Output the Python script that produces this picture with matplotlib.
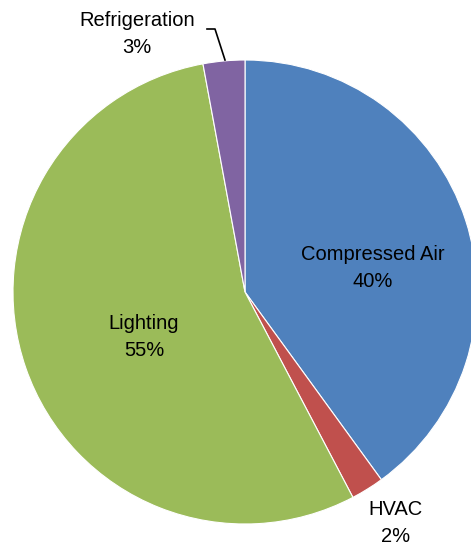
import matplotlib
matplotlib.use("Agg")
import matplotlib.pyplot as plt

labels = ["Compressed Air", "HVAC", "Lighting", "Refrigeration"]
shares = [40.0, 2.3, 54.8, 2.9]
colors = ["#4F81BD", "#C0504D", "#9BBB59", "#8064A2"]

W, H = 471, 548
plt.rcParams["font.family"] = ["Liberation Sans", "DejaVu Sans"]

fig = plt.figure(figsize=(W / 100, H / 100), dpi=100)

# pie centre (245, 292) px, radius 232 px
cx, cy, r = 245, 292, 232
ax = fig.add_axes([(cx - r) / W, (H - cy - r) / H, 2 * r / W, 2 * r / H])
ax.pie(shares, colors=colors, startangle=90, counterclock=False,
       wedgeprops=dict(edgecolor="white", linewidth=0.8))
ax.set_xlim(-1, 1)
ax.set_ylim(-1, 1)
ax.set_aspect("equal")
ax.axis("off")

# label positions in pixel coords
label_pos = [(373, 268), (396, 523), (144, 337), (137, 34)]
for name, val, (x, y) in zip(labels, shares, label_pos):
    fig.text(x / W, 1 - y / H, f"{name}\n{val:.0f}%", ha="center", va="center",
             fontsize=14.5, linespacing=1.55, color="black")

# leader line for Refrigeration
lx = [207, 215, 225]
ly = [29, 29, 60]
fig.add_artist(plt.Line2D([x / W for x in lx], [1 - y / H for y in ly],
                          color="black", linewidth=1.2))

fig.savefig("out.png", dpi=100)
